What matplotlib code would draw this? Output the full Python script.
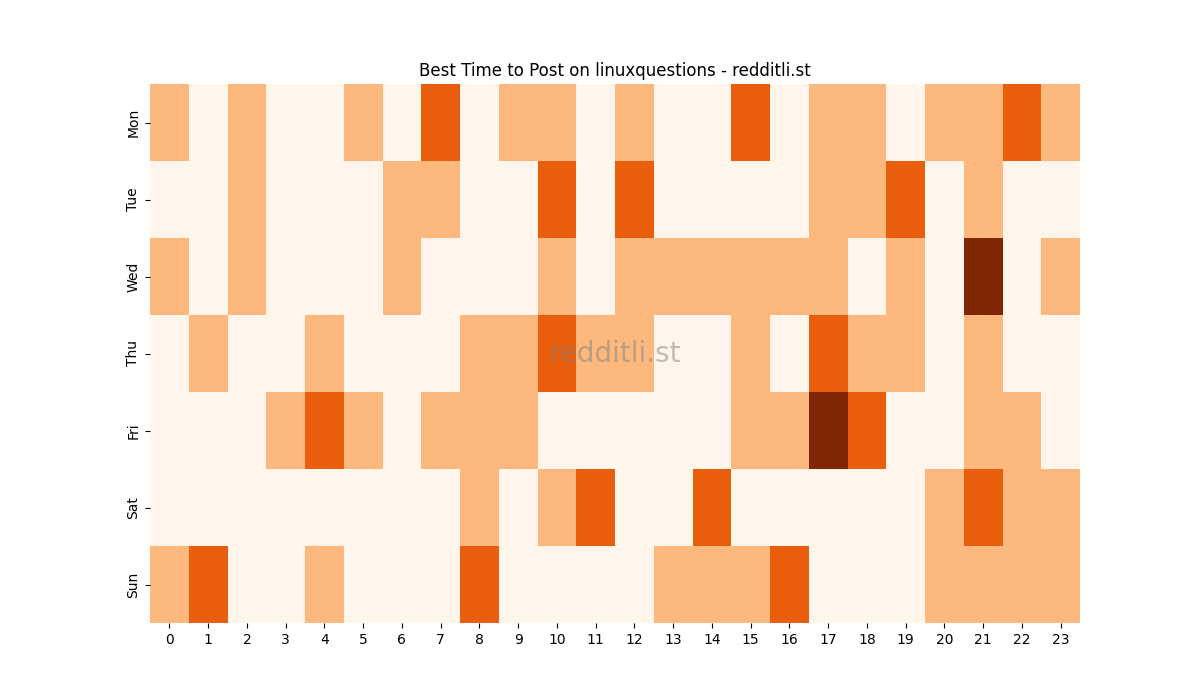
import matplotlib
matplotlib.use("Agg")
import matplotlib.pyplot as plt
import seaborn as sns
import numpy as np

days = ["Mon", "Tue", "Wed", "Thu", "Fri", "Sat", "Sun"]
hours = list(range(24))

mon = [1,0,1,0,0,1,0,2,0,1,1,0,1,0,0,2,0,1,1,0,1,1,2,1]
tue = [0,0,1,0,0,0,1,1,0,0,2,0,2,0,0,0,0,1,1,2,0,1,0,0]
wed = [1,0,1,0,0,0,1,0,0,0,1,0,1,1,1,1,1,1,0,1,0,3,0,1]
thu = [0,1,0,0,1,0,0,0,1,1,2,1,1,0,0,1,0,2,1,1,0,1,0,0]
fri = [0,0,0,1,2,1,0,1,1,1,0,0,0,0,0,1,1,3,2,0,0,1,1,0]
sat = [0,0,0,0,0,0,0,0,1,0,1,2,0,0,2,0,0,0,0,0,1,2,1,1]
sun = [1,2,0,0,1,0,0,0,2,0,0,0,0,1,1,1,2,0,0,0,1,1,1,1]

data = np.array([mon, tue, wed, thu, fri, sat, sun])

fig, ax = plt.subplots(figsize=(12, 7), dpi=100)
sns.heatmap(data, cmap="Oranges", vmin=0, vmax=3, cbar=False,
            xticklabels=hours, yticklabels=days, ax=ax)
ax.set_title("Best Time to Post on linuxquestions - redditli.st")
ax.text(0.5, 0.5, "redditli.st", transform=ax.transAxes, ha="center",
        va="center", fontsize=20, color="gray", alpha=0.5)
fig.savefig("out.png", dpi=100)
